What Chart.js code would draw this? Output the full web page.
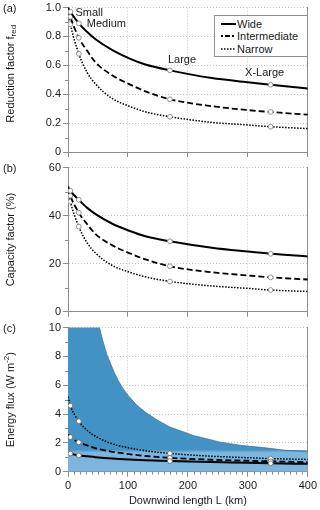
<!DOCTYPE html>
<html>
<head>
<meta charset="utf-8">
<script src="https://cdn.jsdelivr.net/npm/chart.js@4/dist/chart.umd.min.js"></script>
<style>
  html, body { margin: 0; padding: 0; background: #fff; }
  #wrap { position: relative; width: 320px; height: 510px; overflow: hidden;
          font-family: "Liberation Sans", Arial, Helvetica, sans-serif; }
  .panel { position: absolute; left: 0; width: 320px; }
  #pa { top: 0; height: 160px; }
  #pb { top: 160px; height: 160px; }
  #pc { top: 320px; height: 190px; }
  #legend { position: absolute; left: 214px; top: 15px; width: 92px; height: 40px;
            border: 1px solid #8c8c8c; background: #fff; font-size: 11px; color: #1a1a1a; }
  #legend .row { position: absolute; left: 0; width: 92px; height: 12px; line-height: 12px; }
  #legend svg { position: absolute; left: 6px; top: 0; }
  #legend span { position: absolute; left: 22px; top: 0; white-space: nowrap; }
</style>
</head>
<body>
<div id="wrap">
  <div class="panel" id="pa"><canvas id="ca"></canvas></div>
  <div class="panel" id="pb"><canvas id="cb"></canvas></div>
  <div class="panel" id="pc"><canvas id="cc"></canvas></div>
  <div id="legend">
    <div class="row" style="top:2px"><svg width="15" height="12"><line x1="0" y1="6" x2="15" y2="6" stroke="#000" stroke-width="2"/></svg><span>Wide</span></div>
    <div class="row" style="top:14px"><svg width="15" height="12"><line x1="0" y1="6" x2="15" y2="6" stroke="#000" stroke-width="1.8" stroke-dasharray="2 2 5 2"/></svg><span>Intermediate</span></div>
    <div class="row" style="top:26.5px"><svg width="15" height="12"><line x1="0" y1="6" x2="15" y2="6" stroke="#000" stroke-width="1.5" stroke-dasharray="1.5 1.5"/></svg><span>Narrow</span></div>
  </div>
</div>
<script>
const L = [0, 4, 18, 32, 46, 74, 102, 129, 170, 240, 300, 338, 400];
// farm sizes marked with circles
const markerL = [4, 18, 170, 338];
const sizeLabels = ["Small", "Medium", "Large", "X-Large"];

// (a) reduction factor f_red
const redWide = [1.0, 0.97, 0.89, 0.83, 0.78, 0.705, 0.648, 0.605, 0.565, 0.512, 0.483, 0.465, 0.44];
const redInter = [0.99, 0.935, 0.79, 0.70, 0.62, 0.53, 0.47, 0.42, 0.365, 0.317, 0.29, 0.277, 0.258];
const redNarrow = [0.985, 0.885, 0.68, 0.55, 0.47, 0.37, 0.317, 0.278, 0.244, 0.205, 0.187, 0.175, 0.162];

// (b) capacity factor (%)
const cfWide = [52.0, 50.3, 46.6, 43.2, 40.6, 36.6, 33.7, 31.4, 29.3, 26.6, 25.0, 24.1, 23.0];
const cfInter = [51.5, 48.2, 41.2, 36.4, 32.3, 27.6, 24.4, 21.8, 18.9, 16.4, 15.1, 14.3, 13.4];
const cfNarrow = [51.0, 45.8, 35.4, 28.6, 24.4, 19.2, 16.5, 14.5, 12.6, 10.7, 9.7, 9.0, 8.4];

// (c) energy flux (W m-2)
const fluxWide = [1.33, 1.26, 1.13, 1.07, 1.01, 0.915, 0.845, 0.79, 0.735, 0.665, 0.615, 0.58, 0.545];
const fluxInter = [2.6, 2.4, 2.04, 1.82, 1.62, 1.38, 1.22, 1.09, 0.96, 0.83, 0.76, 0.72, 0.66];
const fluxNarrow = [5.2, 4.58, 3.5, 2.86, 2.45, 1.93, 1.65, 1.45, 1.27, 1.07, 0.97, 0.91, 0.85];

// shaded range in (c): upper edge and the flat band underneath
const rangeL = [0, 52.6, 56, 60, 65, 70, 77, 84, 92, 100, 115, 130, 150, 170, 190, 210, 230, 254, 290, 326, 360, 400];
const rangeHigh = [10, 10, 9.4, 8.8, 8.1, 7.6, 6.9, 6.3, 5.75, 5.3, 4.6, 4.1, 3.55, 3.1, 2.8, 2.5, 2.3, 2.05, 1.82, 1.67, 1.5, 1.37];
const bandTop = 1.45;

const FONT = '"Liberation Sans", Arial, Helvetica, sans-serif';
Chart.defaults.font.family = FONT;
Chart.defaults.font.size = 11;
Chart.defaults.color = "#1a1a1a";

const AXIS = "#8c8c8c";
const GRID = "#c4c4c4";
const DARK = "#4292c6";
const LIGHT = "#7cb6df";

const WIDE = { w: 2, dash: [] };
const INTER = { w: 1.8, dash: [6, 3] };
const NARROW = { w: 1.5, dash: [1.5, 1.5] };

function pts(xs, ys) {
    return xs.map((x, i) => ({ x: x, y: ys[i] }));
}

function series(label, ys, st, ring) {
    return {
        label: label,
        data: pts(L, ys),
        order: 1, // keep curves on top of the shading
        borderColor: "#000",
        borderWidth: st.w,
        borderDash: st.dash,
        cubicInterpolationMode: "monotone",
        fill: false,
        pointRadius: (c) => (markerL.includes(L[c.dataIndex]) ? 2.4 : 0),
        pointHoverRadius: 0,
        pointBackgroundColor: "#fff",
        pointBorderColor: ring,
        pointBorderWidth: 0.9,
    };
}

// small in-between ticks (no native minor ticks in chart.js)
const minorTicks = {
    id: "minorTicks",
    afterDraw(chart, args, o) {
        const { ctx, chartArea } = chart;
        const ys = chart.scales.y;
        ctx.save();
        ctx.strokeStyle = AXIS;
        ctx.lineWidth = 1;
        ctx.beginPath();
        const n = Math.round((ys.max - ys.min) / o.yStep);
        for (let i = 0; i < n; i++) {
            const v = ys.min + (i + 0.5) * o.yStep;
            const y = Math.round(ys.getPixelForValue(v)) + 0.5;
            ctx.moveTo(chartArea.left - 3, y);
            ctx.lineTo(chartArea.left, y);
        }
        if (o.xStep) {
            const xs = chart.scales.x;
            for (let v = xs.min + o.xStep; v < xs.max; v += o.xStep) {
                if (v % 100 === 0) continue;
                const x = Math.round(xs.getPixelForValue(v)) + 0.5;
                ctx.moveTo(x, chartArea.bottom);
                ctx.lineTo(x, chartArea.bottom + 3);
            }
        }
        ctx.stroke();
        ctx.restore();
    },
};

// panel letter + rotated y title with sub/superscript bits
const panelText = {
    id: "panelText",
    afterDraw(chart, args, o) {
        const { ctx, chartArea } = chart;
        const big = "11px " + FONT;
        const small = "8px " + FONT;
        ctx.save();
        ctx.fillStyle = "#1a1a1a";
        ctx.textBaseline = "middle";
        ctx.textAlign = "left";
        ctx.font = big;
        ctx.fillText(o.tag, 3, chartArea.top + 1);
        let w = 0;
        o.title.forEach((p) => {
            ctx.font = p[1] ? small : big;
            w += ctx.measureText(p[0]).width;
        });
        ctx.translate(10.5, (chartArea.top + chartArea.bottom) / 2 + (o.shift || 0));
        ctx.rotate(-Math.PI / 2);
        let x = -w / 2;
        o.title.forEach((p) => {
            ctx.font = p[1] ? small : big;
            const dy = p[1] === "sub" ? 3 : p[1] === "sup" ? -4 : 0;
            ctx.fillText(p[0], x, dy);
            x += ctx.measureText(p[0]).width;
        });
        ctx.restore();
    },
};

// Small / Medium / Large / X-Large next to the wide curve in (a)
const sizeTags = {
    id: "sizeTags",
    afterDatasetsDraw(chart) {
        const { ctx } = chart;
        const xs = chart.scales.x;
        const ys = chart.scales.y;
        const offs = [[5, 1, "left"], [8, 1, "left"], [-2, -10, "left"], [-6, -12, "center"]];
        ctx.save();
        ctx.font = "11px " + FONT;
        ctx.fillStyle = "#1a1a1a";
        ctx.textBaseline = "middle";
        markerL.forEach((m, i) => {
            const px = xs.getPixelForValue(m);
            const py = ys.getPixelForValue(redWide[L.indexOf(m)]);
            ctx.textAlign = offs[i][2];
            ctx.fillText(sizeLabels[i], px + offs[i][0], py + offs[i][1]);
        });
        ctx.restore();
    },
};

function makeScales(yMax, yStep, fmt, showX) {
    return {
        x: {
            type: "linear",
            min: 0,
            max: 400,
            ticks: { display: showX, stepSize: 100, padding: 3, color: "#1a1a1a" },
            grid: { color: GRID, drawTicks: showX, tickLength: 5, tickColor: AXIS, tickWidth: 1 },
            border: { display: showX, color: AXIS, dash: [1, 2] },
            title: { display: showX, text: "Downwind length L (km)", padding: { top: 0, bottom: 2 } },
            afterFit: (s) => { s.height = showX ? 38.3 : 0; },
        },
        y: {
            min: 0,
            max: yMax,
            ticks: { stepSize: yStep, padding: 2, color: "#1a1a1a", font: { size: 11, lineHeight: 1 }, callback: fmt },
            grid: { color: GRID, tickLength: 5, tickColor: AXIS, tickWidth: 1 },
            border: { color: AXIS, dash: [1, 2] },
            afterFit: (s) => { s.width = 68; },
        },
        y2: {
            position: "right",
            min: 0,
            max: yMax,
            ticks: { display: false },
            grid: { drawOnChartArea: false, drawTicks: false },
            border: { color: AXIS },
            afterFit: (s) => { s.width = 0; },
        },
    };
}

function makeChart(id, datasets, opts) {
    const plugins = [minorTicks, panelText];
    if (opts.tags) plugins.push(sizeTags);
    return new Chart(document.getElementById(id), {
        type: "line",
        data: { datasets: datasets },
        options: {
            responsive: true,
            maintainAspectRatio: false,
            animation: false,
            events: [],
            layout: { padding: opts.pad },
            plugins: {
                legend: { display: false },
                tooltip: { enabled: false },
                minorTicks: { yStep: opts.minor, xStep: opts.xMinor },
                panelText: { tag: opts.tag, title: opts.title, shift: opts.shift },
            },
            scales: makeScales(opts.yMax, opts.yStep, opts.fmt, opts.showX),
        },
        plugins: plugins,
    });
}

makeChart("ca", [
    series("Wide", redWide, WIDE, "#8a8a8a"),
    series("Intermediate", redInter, INTER, "#8a8a8a"),
    series("Narrow", redNarrow, NARROW, "#8a8a8a"),
], {
    pad: { top: 7, bottom: 8, left: 0, right: 12 },
    yMax: 1, yStep: 0.2, minor: 0.2,
    fmt: (v) => (v === 0 ? "0" : v.toFixed(1)),
    tag: "(a)", title: [["Reduction factor f"], ["red", "sub"]], shift: -6,
    tags: true,
});

makeChart("cb", [
    series("Wide", cfWide, WIDE, "#8a8a8a"),
    series("Intermediate", cfInter, INTER, "#8a8a8a"),
    series("Narrow", cfNarrow, NARROW, "#8a8a8a"),
], {
    pad: { top: 6.7, bottom: 8.3, left: 0, right: 12 },
    yMax: 60, yStep: 20, minor: 20,
    fmt: (v) => String(v),
    tag: "(b)", title: [["Capacity factor (%)"]],
});

makeChart("cc", [
    {
        label: "range",
        data: pts(rangeL, rangeHigh),
        order: 3,
        borderColor: "#3b6f96",
        borderWidth: 0.7,
        tension: 0,
        pointRadius: 0,
        fill: { target: 1, above: DARK, below: LIGHT },
    },
    {
        label: "band",
        data: pts(rangeL, rangeL.map(() => bandTop)),
        order: 3,
        borderColor: "#3d80b2",
        borderWidth: 1,
        pointRadius: 0,
        backgroundColor: LIGHT,
        fill: "origin",
    },
    series("Wide", fluxWide, WIDE, "#707070"),
    series("Intermediate", fluxInter, INTER, "#707070"),
    series("Narrow", fluxNarrow, NARROW, "#707070"),
], {
    pad: { top: 6, bottom: 0, left: 0, right: 12 },
    yMax: 10, yStep: 2, minor: 2, xMinor: 10,
    fmt: (v) => String(v),
    tag: "(c)", title: [["Energy flux (W m"], ["-2", "sup"], [")"]],
    showX: true,
});
</script>
</body>
</html>
